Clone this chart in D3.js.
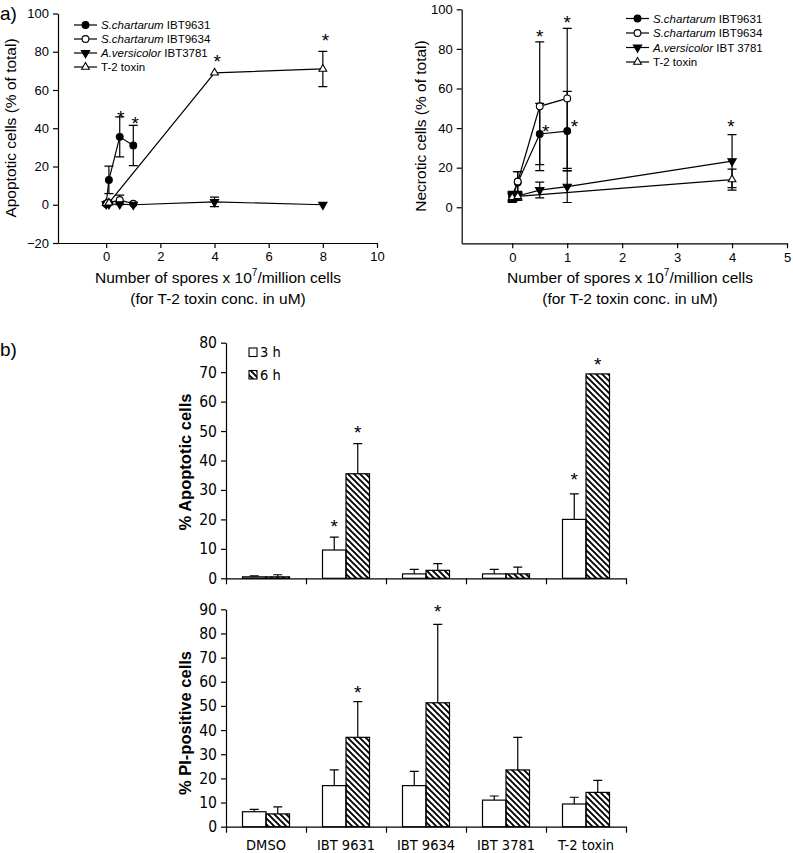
<!DOCTYPE html>
<html>
<head>
<meta charset="utf-8">
<script src="https://cdn.jsdelivr.net/npm/d3@7"></script>
<style>
  body { margin: 0; background: #fff; }
  svg { display: block; font-family: 'Liberation Sans', Arial, sans-serif; }
  .narrow { font-family: 'Liberation Sans Narrow', 'Arial Narrow', 'DejaVu Sans Condensed', sans-serif; }
</style>
</head>
<body>
<svg></svg>
<script>
// ---------- data : panel a, apoptotic (left)
const apoX9631 = [0, 0.1, 0.5, 1];
const apoY9631 = [0.5, 13, 35.5, 31];
const apoE9631 = [0, 7.2, 10.5, 10.5];
const apoX9634 = [0, 0.1, 0.5, 1];
const apoY9634 = [0.5, 1, 2.5, 0.5];
const apoE9634 = [0, 0, 2.5, 0];
const apoX3781 = [0, 0.1, 0.5, 1, 4, 8];
const apoY3781 = [0.3, 0.3, 0.3, 0, 1.5, 0];
const apoE3781 = [0, 0, 0, 0, 2.5, 0];
const apoXT2 = [0, 0.1, 4, 8];
const apoYT2 = [0.8, 1, 69, 71];
const apoET2 = [0, 0, 0, 9.2];
const apoStarX = [0.54, 1.07, 4.1, 8.1];
const apoStarY = [48, 44.7, 77, 88];

// ---------- data : panel a, necrotic (right)
const necX9631 = [0, 0.1, 0.5, 1];
const necY9631 = [5, 12.5, 37, 38.5];
const necE9631 = [2.5, 5.5, 15.5, 20];
const necX9634 = [0, 0.1, 0.5, 1];
const necY9634 = [5.4, 13, 51, 55];
const necE9634 = [2.6, 5, 32.5, 35.4];
const necX3781 = [0, 0.1, 0.5, 1, 4];
const necY3781 = [5.5, 5.7, 8.7, 10.4, 23.3];
const necE3781 = [2, 2, 4, 8, 13.4];
const necXT2 = [0, 0.1, 4];
const necYT2 = [5, 5.5, 14];
const necET2 = [2, 2, 5.3];
const necStarX = [0.5, 1, 0.61, 1.13, 3.98];
const necStarY = [88.6, 95.4, 40.7, 43.2, 43.2];

const seriesGenus = ['S.chartarum', 'S.chartarum', 'A.versicolor', ''];
const leftNames = [' IBT9631', ' IBT9634', ' IBT3781', 'T-2 toxin'];
const rightNames = [' IBT9631', ' IBT9634', ' IBT 3781', 'T-2 toxin'];

const xTicksLeft = [0, 2, 4, 6, 8, 10];
const yTicksLeft = [-20, 0, 20, 40, 60, 80, 100];
const xTicksRight = [0, 1, 2, 3, 4, 5];
const yTicksRight = [0, 20, 40, 60, 80, 100];

// ---------- data : panel b
const categories = ['DMSO', 'IBT 9631', 'IBT 9634', 'IBT 3781', 'T-2 toxin'];
const times = ['3 h', '6 h'];
const apo3h = [0.5, 9.6, 1.5, 1.5, 20];
const apo6h = [0.5, 35.5, 2.7, 1.5, 69.4];
const apoErr3h = [0.3, 4.4, 1.5, 1.5, 8.7];
const apoErr6h = [0.7, 10.2, 2.3, 2.3, 0];
const apoBarStar3h = [null, 18.9, null, null, 35];
const apoBarStar6h = [null, 51, null, null, 74.2];
const pi3h = [6.2, 17, 17, 11, 9.4];
const pi6h = [5.3, 37, 51.3, 23.5, 14.2];
const piErr3h = [1, 6.5, 5.9, 1.7, 2.8];
const piErr6h = [2.9, 14.8, 32.5, 13.5, 5];
const piBarStar3h = [null, null, null, null, null];
const piBarStar6h = [null, 57.4, 90.8, null, null];

// ---------- setup
const width = 793;
const height = 853;
const svg = d3.select('svg').attr('width', width).attr('height', height);

const defs = svg.append('defs');
defs.append('pattern')
  .attr('id', 'hatch')
  .attr('patternUnits', 'userSpaceOnUse')
  .attr('width', 6).attr('height', 6)
  .append('path')
  .attr('d', 'M-1,-1 L7,7 M-4,2 L4,10 M2,-4 L10,4')
  .attr('stroke', '#000')
  .attr('stroke-width', 1.9);

// panel labels
svg.append('text').attr('x', 0).attr('y', 20).attr('font-size', 19).text('a)');
svg.append('text').attr('x', 0).attr('y', 356).attr('font-size', 19).text('b)');

function starCenter(g, x, y, size) {
  g.append('text')
    .attr('x', x).attr('y', y + size * 0.57)
    .attr('text-anchor', 'middle')
    .attr('font-size', size)
    .text('*');
}

function symbolFor(i) {
  if (i === 0 || i === 1) return d3.symbol().type(d3.symbolCircle).size(36)();
  if (i === 2) return d3.symbol().type(d3.symbolTriangle).size(30)();
  return d3.symbol().type(d3.symbolTriangle).size(26)();
}
const symbolFill = ['#000', '#fff', '#000', '#fff'];
const symbolRotate = [0, 0, 180, 0];

// ---------- line chart
function lineChart(opts) {
  const g = svg.append('g');
  const x = d3.scaleLinear().domain(opts.xDomain).range(opts.xRange);
  const y = d3.scaleLinear().domain(opts.yDomain).range(opts.yRange);

  g.append('g')
    .attr('transform', 'translate(0,' + opts.yRange[0] + ')')
    .call(d3.axisBottom(x).tickValues(opts.xTicks).tickFormat(d3.format('d')).tickSize(5).tickSizeOuter(0).tickPadding(4))
    .call(a => a.selectAll('text').attr('font-size', 13).attr('font-family', null));
  g.append('g')
    .attr('transform', 'translate(' + opts.xRange[0] + ',0)')
    .call(d3.axisLeft(y).tickValues(opts.yTicks).tickSize(5).tickSizeOuter(0).tickPadding(4))
    .call(a => a.selectAll('text').attr('font-size', 13).attr('font-family', null));
  g.selectAll('.domain, .tick line').attr('stroke', '#000').attr('stroke-width', 1.2);

  const line = d3.line().x(d => x(d[0])).y(d => y(d[1]));

  opts.series.forEach(function (s, i) {
    const pts = s.x.map((v, k) => [v, s.y[k], s.e[k]]);
    g.append('path').datum(pts)
      .attr('d', line).attr('fill', 'none')
      .attr('stroke', '#000').attr('stroke-width', 1.2);
    pts.filter(p => p[2] > 0).forEach(function (p) {
      const cx = x(p[0]);
      const y0 = y(p[1] - p[2]);
      const y1 = y(p[1] + p[2]);
      g.append('path')
        .attr('d', 'M' + cx + ',' + y0 + 'V' + y1 + 'M' + (cx - 4.5) + ',' + y1 + 'H' + (cx + 4.5) +
          'M' + (cx - 4.5) + ',' + y0 + 'H' + (cx + 4.5))
        .attr('stroke', '#000').attr('stroke-width', 1.2).attr('fill', 'none');
    });
  });
  opts.series.forEach(function (s, i) {
    g.selectAll(null).data(s.x.map((v, k) => [v, s.y[k]])).enter()
      .append('path')
      .attr('d', symbolFor(i))
      .attr('transform', d => 'translate(' + x(d[0]) + ',' + y(d[1]) + ') rotate(' + symbolRotate[i] + ')')
      .attr('fill', symbolFill[i]).attr('stroke', '#000').attr('stroke-width', 1.1);
  });

  opts.starX.forEach(function (sx, k) {
    starCenter(g, x(sx), y(opts.starY[k]), 19);
  });

  // legend
  opts.names.forEach(function (name, i) {
    const ly = opts.legY + i * opts.legStep;
    g.append('line')
      .attr('x1', opts.legX).attr('x2', opts.legX + 23)
      .attr('y1', ly).attr('y2', ly)
      .attr('stroke', '#000').attr('stroke-width', 1.2);
    g.append('path')
      .attr('d', symbolFor(i))
      .attr('transform', 'translate(' + (opts.legX + 11.5) + ',' + ly + ') rotate(' + symbolRotate[i] + ')')
      .attr('fill', symbolFill[i]).attr('stroke', '#000').attr('stroke-width', 1.1);
    const t = g.append('text')
      .attr('x', opts.legX + 27).attr('y', ly + 4.2)
      .attr('font-size', 11.5);
    if (seriesGenus[i]) t.append('tspan').attr('font-style', 'italic').text(seriesGenus[i]);
    t.append('tspan').text(name);
  });

  // titles
  const t1 = g.append('text')
    .attr('x', opts.titleX).attr('y', 283)
    .attr('text-anchor', 'middle').attr('font-size', 15.5);
  t1.append('tspan').text('Number of spores x 10');
  t1.append('tspan').attr('font-size', 10).attr('dy', -7).text('7');
  t1.append('tspan').attr('dy', 7).text('/million cells');
  g.append('text')
    .attr('x', opts.titleX).attr('y', 304)
    .attr('text-anchor', 'middle').attr('font-size', 15.5)
    .text('(for T-2 toxin conc. in uM)');
  g.append('text')
    .attr('transform', 'translate(' + opts.yTitleX + ',' + opts.yTitleY + ') rotate(-90)')
    .attr('text-anchor', 'middle').attr('dy', '0.35em').attr('font-size', 15.5)
    .text(opts.yTitle);
}

lineChart({
  xDomain: [-1.78, 10], xRange: [58, 377],
  yDomain: [-20, 100], yRange: [243, 13.5],
  xTicks: xTicksLeft, yTicks: yTicksLeft,
  series: [
    { x: apoX9631, y: apoY9631, e: apoE9631 },
    { x: apoX9634, y: apoY9634, e: apoE9634 },
    { x: apoX3781, y: apoY3781, e: apoE3781 },
    { x: apoXT2, y: apoYT2, e: apoET2 }
  ],
  starX: apoStarX, starY: apoStarY,
  names: leftNames, legX: 74, legY: 25, legStep: 14,
  titleX: 218, yTitleX: 11, yTitleY: 128,
  yTitle: 'Apoptotic cells (% of total)'
});

lineChart({
  xDomain: [-0.92, 5], xRange: [461.7, 787],
  yDomain: [-18.2, 100], yRange: [243.3, 9.3],
  xTicks: xTicksRight, yTicks: yTicksRight,
  series: [
    { x: necX9631, y: necY9631, e: necE9631 },
    { x: necX9634, y: necY9634, e: necE9634 },
    { x: necX3781, y: necY3781, e: necE3781 },
    { x: necXT2, y: necYT2, e: necET2 }
  ],
  starX: necStarX, starY: necStarY,
  names: rightNames, legX: 626, legY: 18.5, legStep: 14.5,
  titleX: 630, yTitleX: 421, yTitleY: 126,
  yTitle: 'Necrotic cells (% of total)'
});

// ---------- bar charts
const xBand = d3.scaleBand().domain(categories).range([226, 626]);
const xEdges = d3.scaleLinear().domain([0, categories.length]).range([226, 626]);
const xTime = d3.scaleBand().domain(times).range([16.5, 63.5]);

function barChart(opts) {
  const g = svg.append('g');
  const y = d3.scaleLinear().domain([0, opts.yMax]).range(opts.yRange);
  const yTicks = d3.range(0, opts.yMax + 1, 10);

  g.append('g')
    .attr('class', 'narrow')
    .attr('transform', 'translate(226,0)')
    .call(d3.axisLeft(y).tickValues(yTicks).tickSize(5).tickSizeOuter(0).tickPadding(4))
    .call(a => a.selectAll('text').attr('font-size', 15.5).attr('font-family', null));
  g.append('g')
    .attr('transform', 'translate(0,' + opts.yRange[0] + ')')
    .call(d3.axisBottom(xEdges).ticks(5).tickSize(6).tickSizeOuter(0).tickFormat(''));
  if (opts.labels) {
    g.append('g')
      .attr('class', 'narrow')
      .attr('transform', 'translate(0,' + opts.yRange[0] + ')')
      .call(d3.axisBottom(xBand).tickSize(0).tickPadding(13))
      .call(a => a.select('.domain').remove())
      .call(a => a.selectAll('text').attr('font-size', 14.5).attr('font-family', null));
  }
  g.selectAll('.domain, .tick line').attr('stroke', '#000').attr('stroke-width', 1.2);

  const vals = [opts.v3, opts.v6];
  const errs = [opts.e3, opts.e6];
  const stars = [opts.s3, opts.s6];
  times.forEach(function (t, ti) {
    const bx = c => xBand(c) + xTime(t);
    const bw = xTime.bandwidth();
    g.selectAll(null).data(categories).enter()
      .filter((c, k) => errs[ti][k] > 0)
      .append('path')
      .attr('d', function (c) {
        const k2 = categories.indexOf(c);
        const cx = bx(c) + bw / 2;
        const top = y(vals[ti][k2] + errs[ti][k2]);
        return 'M' + cx + ',' + y(vals[ti][k2]) + 'V' + top + 'M' + (cx - 4.5) + ',' + top + 'H' + (cx + 4.5);
      })
      .attr('stroke', '#000').attr('stroke-width', 1.2).attr('fill', 'none');
    g.selectAll(null).data(categories).enter()
      .append('rect')
      .attr('x', c => bx(c))
      .attr('width', bw)
      .attr('y', (c, k) => y(vals[ti][k]))
      .attr('height', (c, k) => opts.yRange[0] - y(vals[ti][k]))
      .attr('fill', ti === 0 ? '#fff' : 'url(#hatch)')
      .attr('stroke', '#000').attr('stroke-width', 1.2);
    categories.forEach(function (c, k) {
      if (stars[ti][k] != null) starCenter(g, bx(c) + bw / 2, y(stars[ti][k]), 19);
    });
  });

  g.append('text')
    .attr('transform', 'translate(185,' + opts.titleY + ') rotate(-90)')
    .attr('text-anchor', 'middle').attr('dy', '0.35em')
    .attr('font-size', 16.5).attr('font-weight', 'bold')
    .text(opts.title);

  if (opts.legend) {
    times.forEach(function (t, ti) {
      const ly = 348 + ti * 22.5;
      g.append('rect')
        .attr('x', 249).attr('y', ly).attr('width', 8).attr('height', 8.5)
        .attr('fill', ti === 0 ? '#fff' : 'url(#hatch)')
        .attr('stroke', '#000').attr('stroke-width', 1.1);
      g.append('text')
        .attr('class', 'narrow')
        .attr('x', 260).attr('y', ly + 9)
        .attr('font-size', 14.5)
        .text(t);
    });
  }
}

barChart({
  yMax: 80, yRange: [578.3, 342.7],
  v3: apo3h, v6: apo6h, e3: apoErr3h, e6: apoErr6h,
  s3: apoBarStar3h, s6: apoBarStar6h,
  title: '% Apoptotic cells', titleY: 462,
  legend: true, labels: false
});

barChart({
  yMax: 90, yRange: [826.7, 609.3],
  v3: pi3h, v6: pi6h, e3: piErr3h, e6: piErr6h,
  s3: piBarStar3h, s6: piBarStar6h,
  title: '% PI-positive cells', titleY: 723,
  legend: false, labels: true
});
</script>
</body>
</html>
